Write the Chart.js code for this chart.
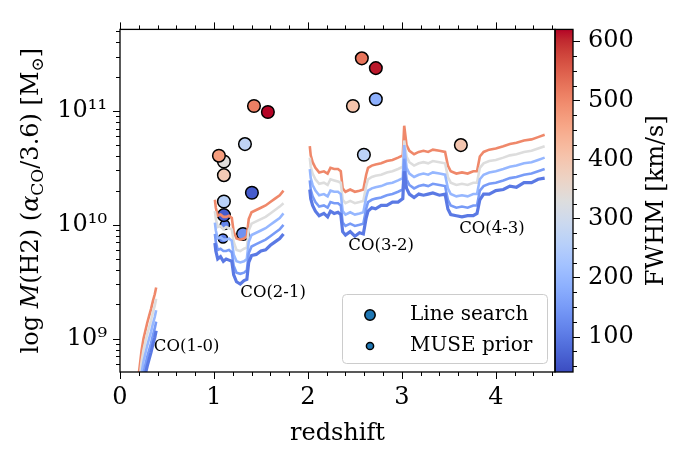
<!DOCTYPE html>
<html lang="en">
<head>
<meta charset="UTF-8">
<title>H2 mass limits vs redshift</title>
<script src="https://cdn.jsdelivr.net/npm/chart.js@4"></script>
<style>
  html, body { margin: 0; padding: 0; background: #fff; }
  #wrap { width: 684px; height: 460px; }
</style>
</head>
<body>
<div id="wrap"><canvas id="massChart" width="684" height="460"></canvas></div>
<script>
// ---- values ----
const cbMin = 40, cbMax = 620;               // FWHM colour range [km/s]
const xTickValues = [0, 1, 2, 3, 4];
const yTickValues = [1e9, 1e10, 1e11];
const yTickLabels = ['10\u2079', '10\u00b9\u2070', '10\u00b9\u00b9'];
const cbTickValues = [100, 200, 300, 400, 500, 600];

// redshift grid of the sensitivity curves (0.7 and 1.9 are the gaps between bands)
const zGrid = [0.19, 0.21, 0.23, 0.25, 0.27, 0.29, 0.31, 0.33, 0.35, 0.37, 0.385,
  0.7,
  1.01, 1.02, 1.04, 1.07, 1.10, 1.13, 1.16, 1.19, 1.21, 1.24, 1.28, 1.32, 1.35, 1.37, 1.40, 1.45, 1.50, 1.55, 1.60, 1.65, 1.70, 1.74,
  1.9,
  2.02, 2.03, 2.05, 2.08, 2.12, 2.17, 2.21, 2.24, 2.28, 2.32, 2.35, 2.37, 2.40, 2.45, 2.50, 2.55, 2.59, 2.62, 2.64, 2.68,
  2.72, 2.78, 2.84, 2.90, 2.96, 3.01, 3.025, 3.05, 3.08, 3.13, 3.18, 3.23, 3.28, 3.33, 3.40, 3.46, 3.49, 3.52, 3.58, 3.64,
  3.70, 3.76, 3.80, 3.83, 3.87, 3.93, 4.00, 4.08, 4.15, 4.22, 4.30, 4.38, 4.45, 4.52];

// log10 M(H2) limit curves, one per line width
const limFwhm = [100, 150, 200, 330, 500];
const lim100 = [8.24, 8.38, 8.52, 8.62, 8.69, 8.76, 8.82, 8.88, 8.95, 9.01, 9.07,
  null,
  9.84, 9.77, 9.70, 9.72, 9.68, 9.70, 9.69, 9.68, 9.56, 9.50, 9.48, 9.51, 9.52, 9.67, 9.73, 9.74, 9.77, 9.78, 9.82, 9.85, 9.88, 9.92,
  null,
  10.31, 10.23, 10.17, 10.12, 10.08, 10.10, 10.07, 10.12, 10.10, 10.11, 10.09, 9.94, 9.91, 9.94, 9.90, 9.93, 9.92, 10.06, 10.12, 10.15,
  10.14, 10.17, 10.17, 10.20, 10.20, 10.23, 10.47, 10.32, 10.27, 10.24, 10.27, 10.26, 10.27, 10.28, 10.26, 10.27, 10.14, 10.09, 10.08, 10.07,
  10.08, 10.08, 10.10, 10.22, 10.27, 10.27, 10.30, 10.31, 10.34, 10.33, 10.37, 10.37, 10.40, 10.41];
const lim150 = [8.32, 8.46, 8.60, 8.70, 8.77, 8.84, 8.90, 8.96, 9.03, 9.09, 9.15,
  null,
  9.92, 9.85, 9.78, 9.79, 9.77, 9.77, 9.78, 9.76, 9.64, 9.58, 9.57, 9.58, 9.60, 9.75, 9.81, 9.83, 9.85, 9.87, 9.90, 9.93, 9.96, 10.00,
  null,
  10.39, 10.31, 10.25, 10.20, 10.16, 10.17, 10.15, 10.20, 10.19, 10.19, 10.17, 10.02, 9.99, 10.01, 9.99, 10.00, 10.01, 10.14, 10.20, 10.22,
  10.23, 10.24, 10.26, 10.27, 10.29, 10.31, 10.58, 10.40, 10.35, 10.32, 10.34, 10.35, 10.34, 10.36, 10.35, 10.34, 10.22, 10.17, 10.15, 10.16,
  10.15, 10.17, 10.17, 10.30, 10.34, 10.36, 10.37, 10.39, 10.41, 10.42, 10.44, 10.45, 10.47, 10.49];
const lim200 = [8.42, 8.56, 8.70, 8.80, 8.87, 8.94, 9.00, 9.06, 9.13, 9.19, 9.25,
  null,
  10.02, 9.95, 9.88, 9.89, 9.87, 9.87, 9.88, 9.86, 9.74, 9.68, 9.67, 9.68, 9.70, 9.85, 9.91, 9.93, 9.95, 9.97, 10.00, 10.03, 10.06, 10.10,
  null,
  10.49, 10.41, 10.35, 10.30, 10.26, 10.27, 10.25, 10.30, 10.29, 10.29, 10.27, 10.12, 10.09, 10.11, 10.09, 10.10, 10.11, 10.24, 10.30, 10.32,
  10.33, 10.34, 10.36, 10.37, 10.39, 10.41, 10.70, 10.50, 10.45, 10.42, 10.44, 10.45, 10.44, 10.46, 10.45, 10.44, 10.32, 10.27, 10.25, 10.26,
  10.25, 10.27, 10.27, 10.40, 10.44, 10.46, 10.47, 10.49, 10.51, 10.52, 10.54, 10.55, 10.57, 10.59];
const lim330 = [8.52, 8.66, 8.80, 8.90, 8.97, 9.04, 9.10, 9.16, 9.23, 9.29, 9.35,
  null,
  10.12, 10.05, 9.98, 9.99, 9.96, 9.98, 9.97, 9.96, 9.85, 9.78, 9.77, 9.79, 9.80, 9.95, 10.01, 10.03, 10.05, 10.07, 10.10, 10.13, 10.16, 10.19,
  null,
  10.59, 10.51, 10.45, 10.40, 10.36, 10.37, 10.35, 10.40, 10.39, 10.38, 10.37, 10.22, 10.19, 10.21, 10.19, 10.20, 10.21, 10.34, 10.40, 10.42,
  10.43, 10.44, 10.46, 10.47, 10.49, 10.51, 10.74, 10.60, 10.55, 10.52, 10.54, 10.55, 10.54, 10.56, 10.55, 10.54, 10.42, 10.37, 10.35, 10.36,
  10.35, 10.37, 10.37, 10.50, 10.54, 10.56, 10.57, 10.59, 10.61, 10.62, 10.64, 10.65, 10.67, 10.69];
const lim500 = [8.62, 8.76, 8.90, 9.00, 9.07, 9.14, 9.20, 9.26, 9.33, 9.39, 9.45,
  null,
  10.22, 10.15, 10.08, 10.09, 10.07, 10.07, 10.08, 10.06, 9.94, 9.88, 9.87, 9.88, 9.90, 10.05, 10.11, 10.13, 10.15, 10.17, 10.20, 10.23, 10.26, 10.30,
  null,
  10.69, 10.61, 10.55, 10.50, 10.46, 10.47, 10.45, 10.50, 10.49, 10.49, 10.47, 10.32, 10.29, 10.31, 10.29, 10.30, 10.31, 10.44, 10.50, 10.52,
  10.53, 10.54, 10.56, 10.57, 10.59, 10.61, 10.87, 10.70, 10.65, 10.62, 10.64, 10.65, 10.64, 10.66, 10.65, 10.64, 10.52, 10.47, 10.45, 10.46,
  10.45, 10.47, 10.47, 10.60, 10.64, 10.66, 10.67, 10.69, 10.71, 10.72, 10.74, 10.75, 10.77, 10.79];
const limCurves = [lim100, lim150, lim200, lim330, lim500];

// detections: blind line search
const lsZ    = [1.106, 1.053, 1.106, 1.106, 1.106, 1.309, 1.404, 1.330, 1.426, 1.574, 2.574, 2.723, 2.479, 2.723, 2.596, 3.628];
const lsLogM = [10.556, 10.607, 10.436, 10.205, 10.085, 9.92, 10.282, 10.709, 11.043, 10.991, 11.462, 11.376, 11.043, 11.103, 10.615, 10.70];
const lsFwhm = [335, 470, 390, 260, 60, 135, 60, 270, 510, 620, 525, 610, 405, 185, 265, 400];
// detections: MUSE redshift prior
const museZ    = [1.117, 1.096];
const museLogM = [10.00, 9.88];
const museFwhm = [115, 110];

// CO transition labels
const bandLabels = ['CO(1-0)', 'CO(2-1)', 'CO(3-2)', 'CO(4-3)'];
const bandLabelZ = [0.36, 1.28, 2.43, 3.61];
const bandLabelLogM = [8.93, 9.40, 9.82, 9.97];

// ---- colour map (matplotlib coolwarm) ----
const coolwarmStops = [
  [59,76,192],[68,90,204],[77,104,215],[87,117,225],[98,130,234],[108,142,241],[119,154,247],[130,165,251],
  [141,176,254],[152,185,255],[163,194,255],[174,201,253],[184,208,249],[194,213,244],[204,217,238],[213,219,230],
  [221,221,221],[229,216,209],[236,211,197],[241,204,185],[245,196,173],[247,187,160],[247,177,148],[247,166,135],
  [244,154,123],[241,141,111],[236,127,99],[229,112,88],[222,96,77],[213,80,66],[203,62,56],[192,40,47],[180,4,38]];

function coolwarm(t) {
  t = Math.min(1, Math.max(0, t));
  const p = t * 32;
  const i = Math.min(31, Math.floor(p));
  const f = p - i;
  const a = coolwarmStops[i], b = coolwarmStops[i + 1];
  return 'rgb(' + [0, 1, 2].map(k => Math.round(a[k] + (b[k] - a[k]) * f)).join(',') + ')';
}
const fwhmColor = v => coolwarm((v - cbMin) / (cbMax - cbMin));

const FONT = "'DejaVu Serif', serif";

// ---- datasets ----
const datasets = limCurves.map((curve, k) => ({
  label: 'FWHM ' + limFwhm[k],
  data: zGrid.map((z, i) => ({ x: z, y: curve[i] === null ? null : Math.pow(10, curve[i]) })),
  showLine: true,
  spanGaps: false,
  borderColor: fwhmColor(limFwhm[k]),
  borderWidth: k === 0 ? 3.2 : 2.6,
  pointRadius: 0,
  tension: 0
}));

datasets.push({
  label: 'Line search',
  data: lsZ.map((z, i) => ({ x: z, y: Math.pow(10, lsLogM[i]) })),
  pointRadius: 6.3,
  pointBackgroundColor: lsFwhm.map(fwhmColor),
  pointBorderColor: '#000',
  pointBorderWidth: 1.5
});
datasets.push({
  label: 'MUSE prior',
  data: museZ.map((z, i) => ({ x: z, y: Math.pow(10, museLogM[i]) })),
  pointRadius: 4.6,
  pointBackgroundColor: museFwhm.map(fwhmColor),
  pointBorderColor: '#000',
  pointBorderWidth: 1.5
});

// text made of pieces (italic, subscripts), drawn rotated to read bottom-to-top
function drawVerticalText(ctx, parts, cx, cy) {
  let total = 0;
  for (const p of parts) { ctx.font = p.font; p.w = ctx.measureText(p.text).width; total += p.w; }
  ctx.save();
  ctx.translate(cx, cy);
  ctx.rotate(-Math.PI / 2);
  ctx.textAlign = 'left';
  ctx.textBaseline = 'alphabetic';
  ctx.fillStyle = '#000';
  let x = -total / 2;
  for (const p of parts) {
    ctx.font = p.font;
    ctx.fillText(p.text, x, p.dy);
    x += p.w;
  }
  ctx.restore();
}

const decor = {
  id: 'decor',
  afterDraw(chart) {
    const { ctx, chartArea: a, scales } = chart;
    const xs = scales.x, ys = scales.y, cs = scales.cb, bar = scales.cbar;
    ctx.save();

    // colour bar
    const yTop = cs.getPixelForValue(cbMax), yBot = cs.getPixelForValue(cbMin);
    const grad = ctx.createLinearGradient(0, yBot, 0, yTop);
    coolwarmStops.forEach((c, i) => grad.addColorStop(i / 32, 'rgb(' + c.join(',') + ')'));
    ctx.fillStyle = grad;
    ctx.fillRect(bar.left, yTop, bar.width, yBot - yTop);
    ctx.strokeStyle = '#000';
    ctx.lineWidth = 1.3;
    ctx.strokeRect(bar.left, yTop, bar.width, yBot - yTop);

    // frame
    ctx.strokeRect(a.left, a.top, a.width, a.height);

    // tick marks (outward)
    ctx.lineWidth = 1;
    ctx.beginPath();
    for (let i = 0; i * 0.2 <= xs.max + 1e-9; i++) {
      const len = i % 5 === 0 ? 7 : 4;
      const px = Math.round(xs.getPixelForValue(i * 0.2)) + 0.5;
      ctx.moveTo(px, a.bottom); ctx.lineTo(px, a.bottom + len);
      ctx.moveTo(px, a.top); ctx.lineTo(px, a.top - len);
    }
    for (let e = 8; e <= 11; e++) {
      for (let m = 1; m <= 9; m++) {
        const v = m * Math.pow(10, e);
        if (v < ys.min || v > ys.max) continue;
        const len = m === 1 ? 7 : 4;
        const py = Math.round(ys.getPixelForValue(v)) + 0.5;
        ctx.moveTo(a.left, py); ctx.lineTo(a.left - len, py);
      }
    }
    for (let v = 50; v <= 600; v += 25) {
      const len = v % 100 === 0 ? 7 : 4;
      const py = Math.round(cs.getPixelForValue(v)) + 0.5;
      ctx.moveTo(bar.right, py); ctx.lineTo(bar.right + len, py);
    }
    ctx.stroke();

    // CO band labels
    ctx.fillStyle = '#000';
    ctx.font = '16.5px ' + FONT;
    ctx.textAlign = 'left';
    ctx.textBaseline = 'middle';
    bandLabels.forEach((t, i) => {
      ctx.fillText(t, xs.getPixelForValue(bandLabelZ[i]), ys.getPixelForValue(Math.pow(10, bandLabelLogM[i])));
    });

    // legend
    const lx = 342.5, ly = 294.5, lw = 205, lh = 69;
    ctx.beginPath();
    ctx.roundRect(lx, ly, lw, lh, 4);
    ctx.fillStyle = 'rgba(255,255,255,0.85)';
    ctx.fill();
    ctx.strokeStyle = '#cccccc';
    ctx.lineWidth = 1;
    ctx.stroke();
    const items = [['Line search', 5.2, 315], ['MUSE prior', 3.6, 346]];
    items.forEach(([t, r, y]) => {
      ctx.beginPath();
      ctx.arc(370, y, r, 0, Math.PI * 2);
      ctx.fillStyle = '#1f77b4';
      ctx.fill();
      ctx.strokeStyle = '#000';
      ctx.lineWidth = 1.5;
      ctx.stroke();
      ctx.fillStyle = '#000';
      ctx.font = '20px ' + FONT;
      ctx.textBaseline = 'middle';
      ctx.fillText(t, 410, y);
    });

    // axis titles
    const big = '24px ' + FONT, bigIt = 'italic 24px ' + FONT, sub = '17px ' + FONT;
    drawVerticalText(ctx, [
      { text: 'log ', font: big, dy: 8 },
      { text: 'M', font: bigIt, dy: 8 },
      { text: '(H2) (', font: big, dy: 8 },
      { text: '\u03b1', font: bigIt, dy: 8 },
      { text: 'CO', font: sub, dy: 13 },
      { text: '/3.6) [M', font: big, dy: 8 },
      { text: '\u2299', font: sub, dy: 13 },
      { text: ']', font: big, dy: 8 }
    ], 30, (a.top + a.bottom) / 2);
    drawVerticalText(ctx, [{ text: 'FWHM [km/s]', font: big, dy: 8 }], 655, (a.top + a.bottom) / 2);

    ctx.restore();
  }
};

const tickFont = { family: FONT, size: 24 };

new Chart(document.getElementById('massChart'), {
  type: 'scatter',
  data: { datasets },
  options: {
    responsive: false,
    animation: false,
    layout: { padding: { top: 20, left: 0, right: 0, bottom: 0 } },
    plugins: { legend: { display: false }, tooltip: { enabled: false } },
    scales: {
      x: {
        type: 'linear', position: 'bottom', min: 0, max: 4.63,
        grid: { display: false, drawTicks: false },
        border: { display: false },
        ticks: { font: tickFont, color: '#000', padding: 11, maxRotation: 0, callback: v => String(v) },
        afterBuildTicks: s => { s.ticks = xTickValues.map(v => ({ value: v })); },
        afterFit: s => { s.height = 88; },
        title: { display: true, text: 'redshift', font: tickFont, color: '#000', padding: { top: 0, bottom: 12 } }
      },
      y: {
        type: 'logarithmic', position: 'left', min: 5.1e8, max: 5.2e11,
        grid: { display: false, drawTicks: false },
        border: { display: false },
        ticks: { font: tickFont, color: '#000', padding: 13, callback: v => { const i = yTickValues.indexOf(v); return i < 0 ? '' : yTickLabels[i]; } },
        afterBuildTicks: s => { s.ticks = yTickValues.map(v => ({ value: v })); },
        afterFit: s => { s.width = 120; }
      },
      cbar: {
        type: 'linear', position: 'right', weight: 1, min: 0, max: 1,
        grid: { display: false, drawTicks: false },
        border: { display: false },
        ticks: { display: false },
        afterFit: s => { s.width = 18; }
      },
      cb: {
        type: 'linear', position: 'right', weight: 2, min: cbMin, max: cbMax,
        grid: { display: false, drawTicks: false },
        border: { display: false },
        ticks: { font: tickFont, color: '#000', padding: 15 },
        afterBuildTicks: s => { s.ticks = cbTickValues.map(v => ({ value: v })); },
        afterFit: s => { s.width = 111; }
      }
    }
  },
  plugins: [decor]
});
</script>
</body>
</html>
